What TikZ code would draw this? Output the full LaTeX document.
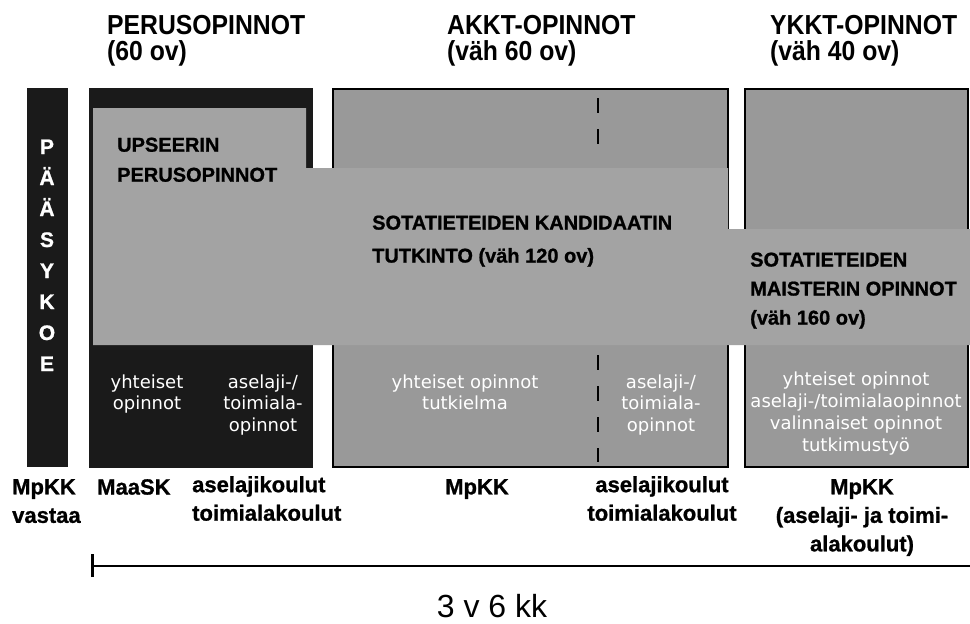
\documentclass[tikz,border=0pt]{standalone}
\usepackage{fontspec}
\setmainfont{Liberation Sans}
\newfontfamily\narrowfont[FakeStretch=0.9]{Liberation Sans}
\newfontfamily\heavyfont[FakeBold=1]{Liberation Sans}
\newfontfamily\wfont{DejaVu Sans}
\definecolor{boxgray}{HTML}{999999}
\definecolor{bandgray}{HTML}{A3A3A3}
\definecolor{dark}{HTML}{1A1A1A}
\newcommand{\hd}   {\narrowfont\bfseries\fontsize{27.5}{26}\selectfont}
\newcommand{\ttl}[1]{\heavyfont\bfseries\fontsize{20}{#1}\selectfont}
\newcommand{\wsub}[1]{\wfont\fontsize{18}{#1}\selectfont}
\newcommand{\lbl}  {\heavyfont\bfseries\fontsize{22}{28.5}\selectfont}

\begin{document}
\begin{tikzpicture}[x=1pt,y=-1pt,
  hd/.style={anchor=north west,inner sep=0,align=left,font=\hd},
  boxtitle/.style={anchor=north west,inner sep=0,align=left},
  sub/.style={anchor=north,inner sep=0,align=center,text=white},
  lbl/.style={anchor=north,inner sep=0,align=center,font=\lbl},
  letter/.style={anchor=base,inner sep=0,text=white,font=\heavyfont\bfseries\fontsize{21}{21}\selectfont}]
  \useasboundingbox (0,0) rectangle (970,624);
  \fill[white] (0,0) rectangle (970,624);

  \draw ( 107, 15) node[hd] (hPerus) {PERUSOPINNOT\\(60 ov)};
  \draw ( 447, 15) node[hd] (hAkkt)  {AKKT-OPINNOT\\(väh 60 ov)};
  \draw ( 770, 15) node[hd] (hYkkt)  {YKKT-OPINNOT\\(väh 40 ov)};

  \fill[dark] ( 27, 88) rectangle ( 68,467);
  \fill[dark] ( 89, 88) rectangle (313,468);
  \draw[fill=boxgray,line width=2pt] (333, 89) rectangle (728,467);
  \draw[fill=boxgray,line width=2pt] (745, 89) rectangle (968,467);
  \draw[line width=2.5pt,dash pattern=on 15pt off 16pt] (598, 98) -- (598,152);
  \draw[line width=2.5pt,dash pattern=on 15pt off 16pt] (598,355) -- (598,462);
  \fill[bandgray] ( 93,108) -- (306,108) -- (306,168) -- (728,168) -- (728,229)
                  -- (970,229) -- (970,345) -- ( 93,345) -- cycle;

  \draw ( 47,154) node[letter] (k1) {P};
  \draw ( 47,185) node[letter] (k2) {Ä};
  \draw ( 47,216) node[letter] (k3) {Ä};
  \draw ( 47,247) node[letter] (k4) {S};
  \draw ( 47,278) node[letter] (k5) {Y};
  \draw ( 47,309) node[letter] (k6) {K};
  \draw ( 47,340) node[letter] (k7) {O};
  \draw ( 47,371) node[letter] (k8) {E};

  \draw (117,137.5) node[boxtitle,font={\ttl{30}}] (tUps)  {UPSEERIN\\PERUSOPINNOT};
  \draw (372,215.4) node[boxtitle,font={\ttl{33}}] (tKand) {SOTATIETEIDEN KANDIDAATIN\\TUTKINTO (väh 120 ov)};
  \draw (750,252.4) node[boxtitle,font={\ttl{29}}] (tMais) {SOTATIETEIDEN\\MAISTERIN OPINNOT\\(väh 160 ov)};

  \draw (147,374.3) node[sub,font={\wsub{21.5}}] (sPerusA) {yhteiset\\opinnot};
  \draw (263,374.3) node[sub,font={\wsub{21.5}}] (sPerusB) {aselaji-/\\toimiala-\\opinnot};
  \draw (465,374.3) node[sub,font={\wsub{21.5}}] (sAkktA)  {yhteiset opinnot\\tutkielma};
  \draw (661,374.3) node[sub,font={\wsub{21.5}}] (sAkktB)  {aselaji-/\\toimiala-\\opinnot};
  \draw (856,371.3) node[sub,font={\wsub{22}}]   (sYkkt)   {yhteiset opinnot\\aselaji-/toimialaopinnot\\valinnaiset opinnot\\tutkimustyö};

  \draw ( 12,479) node[lbl,anchor=north west,align=left] (lMpkk) {MpKK\\vastaa};
  \draw ( 97,479) node[lbl,anchor=north west] (lMaask) {MaaSK};
  \draw (192,476) node[lbl,anchor=north west,align=left] (lKoulA) {aselajikoulut\\toimialakoulut};
  \draw (477,479) node[lbl] (lMpkkA) {MpKK};
  \draw (662,476) node[lbl] (lKoulB) {aselajikoulut\\toimialakoulut};
  \draw (862,479) node[lbl] (lMpkkY) {MpKK\\(aselaji- ja toimi-\\alakoulut)};

  \coordinate (t0) at ( 92,566);
  \coordinate (t1) at (970,566);
  \draw[line width=2.5pt] (t0) -- (t1);
  \draw[line width=3pt] ([yshift=-11pt]t0) -- ([yshift=12pt]t0);
  \draw (492,617) node[anchor=base,inner sep=0,font=\fontsize{32}{32}\selectfont] (dur) {3 v 6 kk};
\end{tikzpicture}
\end{document}
